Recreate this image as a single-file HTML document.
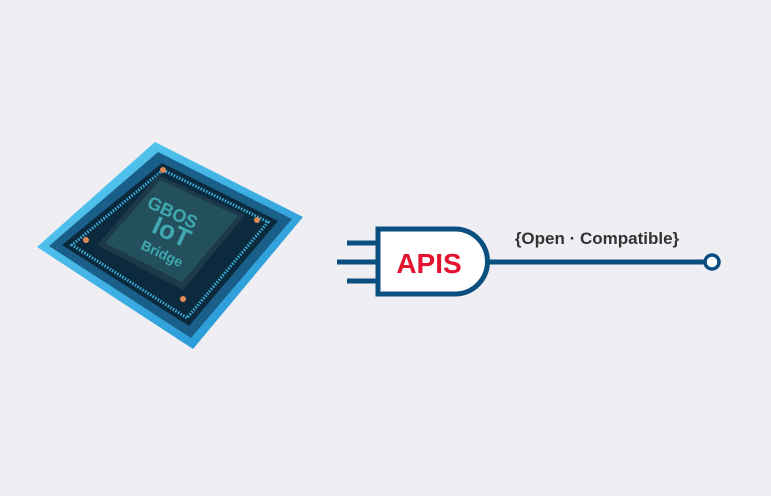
<!DOCTYPE html>
<html><head><style>
html,body{margin:0;padding:0;background:#efeff3;width:771px;height:496px;overflow:hidden}
</style></head><body>
<svg width="771" height="496" viewBox="0 0 771 496" xmlns="http://www.w3.org/2000/svg">
<defs>
<linearGradient id="sub" x1="0" y1="0" x2="1" y2="1">
<stop offset="0" stop-color="#5fd0f5"/><stop offset="1" stop-color="#1e8fd0"/></linearGradient>
</defs>
<polygon points="155,142 303,217 193,349 37,247" fill="url(#sub)"/>
<polygon points="158,152 292,219 191,338 49,246" fill="#1a5f8a"/>
<polygon points="162,163 278,221 189,326 62,245" fill="#0c2a3e"/>
<polygon points="163,170 268,222 187,318 72,245" fill="none" stroke="#3ab0d8" stroke-width="3" stroke-dasharray="1.5 1.5"/>
<polygon points="158,175 245,215 183,290 97,245" fill="#1d3a4a"/>
<polygon points="160,180 238,216 182,282 105,243" fill="#24505e"/>
<text x="170" y="218" font-family="Liberation Sans,sans-serif" font-weight="bold" font-size="18" fill="#3fa8b0" transform="rotate(25 170 218)" text-anchor="middle">GBOS</text>
<text x="168" y="240" font-family="Liberation Sans,sans-serif" font-weight="bold" font-size="26" fill="#3fa8b0" transform="rotate(25 168 240)" text-anchor="middle">IoT</text>
<text x="160" y="258" font-family="Liberation Sans,sans-serif" font-weight="bold" font-size="14" fill="#3fa8b0" transform="rotate(25 160 258)" text-anchor="middle">Bridge</text>
<circle cx="163" cy="170" r="3" fill="#e08a5a"/>
<circle cx="257" cy="220" r="3" fill="#e08a5a"/>
<circle cx="86" cy="240" r="3" fill="#e08a5a"/>
<circle cx="183" cy="299" r="3" fill="#e08a5a"/>
<g stroke="#0b4f80" stroke-width="5" fill="none">
<line x1="347" y1="243" x2="378" y2="243"/>
<line x1="337" y1="262" x2="378" y2="262"/>
<line x1="347" y1="281" x2="378" y2="281"/>
<path d="M378,229 H455 A32,32 0 0 1 455,294 H378 Z" fill="#fff"/>
<line x1="487" y1="262" x2="705" y2="262"/>
<circle cx="712" cy="262" r="7" fill="#fff" stroke-width="3.5"/>
</g>
<text x="429" y="273" font-family="Liberation Sans,sans-serif" font-weight="bold" font-size="28" fill="#e3122f" text-anchor="middle">APIS</text>
<text x="597" y="244" font-family="Liberation Sans,sans-serif" font-weight="bold" font-size="17" fill="#333" text-anchor="middle">{Open · Compatible}</text>
</svg>
</body></html>
